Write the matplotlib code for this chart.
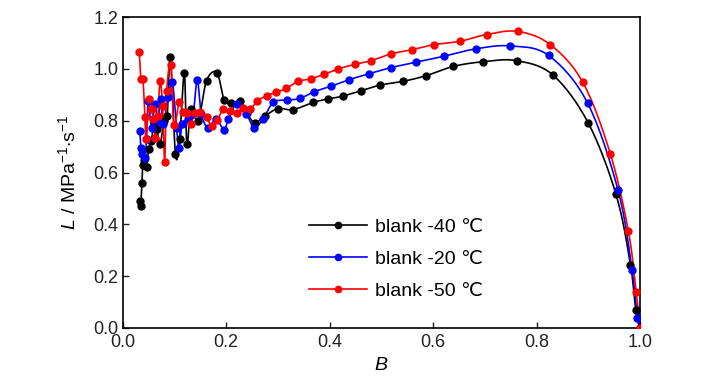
import numpy as np
import matplotlib
matplotlib.use("Agg")
import matplotlib.pyplot as plt
from matplotlib.lines import Line2D

plt.rcParams['font.family'] = ['Liberation Sans', 'DejaVu Sans']
plt.rcParams['mathtext.fontset'] = 'custom'
plt.rcParams['mathtext.rm'] = 'Liberation Sans'
plt.rcParams['mathtext.it'] = 'Liberation Sans:italic'

# ---- data ----
B_black = [0.034, 0.035, 0.037, 0.039, 0.042, 0.046, 0.050, 0.055, 0.060, 0.066,
           0.072, 0.080, 0.086, 0.092, 0.102, 0.110, 0.119, 0.124, 0.132, 0.146,
           0.162, 0.182, 0.196, 0.210, 0.226, 0.240, 0.255, 0.275, 0.300, 0.329,
           0.368, 0.396, 0.425, 0.460, 0.498, 0.541, 0.586, 0.639, 0.697, 0.761,
           0.831, 0.899, 0.953, 0.981, 0.991, 1.000]
L_black = [0.49, 0.47, 0.56, 0.63, 0.65, 0.62, 0.69, 0.72, 0.78, 0.77,
           0.71, 0.80, 0.82, 1.045, 0.67, 0.73, 0.983, 0.71, 0.845, 0.80,
           0.955, 0.985, 0.880, 0.867, 0.875, 0.83, 0.793, 0.819, 0.847, 0.843,
           0.871, 0.884, 0.895, 0.916, 0.938, 0.952, 0.974, 1.010, 1.028, 1.032,
           0.977, 0.793, 0.516, 0.244, 0.070, 0.0]

B_blue = [0.033, 0.035, 0.037, 0.043, 0.046, 0.049, 0.056, 0.062, 0.068, 0.074,
          0.078, 0.088, 0.096, 0.104, 0.109, 0.115, 0.126, 0.136, 0.144, 0.152,
          0.165, 0.180, 0.196, 0.204, 0.220, 0.239, 0.254, 0.271, 0.291, 0.318,
          0.342, 0.370, 0.402, 0.438, 0.475, 0.518, 0.567, 0.620, 0.683, 0.749,
          0.823, 0.898, 0.957, 0.984, 0.994, 1.000]
L_blue = [0.761, 0.696, 0.671, 0.658, 0.729, 0.877, 0.774, 0.864, 0.800, 0.884,
          0.787, 0.890, 0.948, 0.774, 0.696, 0.787, 0.806, 0.826, 0.958, 0.826,
          0.774, 0.806, 0.765, 0.806, 0.864, 0.826, 0.774, 0.806, 0.871, 0.880,
          0.886, 0.912, 0.933, 0.959, 0.981, 1.005, 1.026, 1.049, 1.078, 1.089,
          1.052, 0.869, 0.532, 0.225, 0.040, 0.0]

B_red = [0.032, 0.035, 0.039, 0.043, 0.045, 0.051, 0.056, 0.059, 0.063, 0.068,
         0.072, 0.077, 0.081, 0.085, 0.093, 0.099, 0.109, 0.116, 0.124, 0.131,
         0.139, 0.149, 0.162, 0.172, 0.183, 0.194, 0.207, 0.221, 0.233, 0.246,
         0.260, 0.278, 0.297, 0.316, 0.339, 0.363, 0.389, 0.416, 0.449, 0.480,
         0.518, 0.558, 0.602, 0.652, 0.703, 0.763, 0.826, 0.889, 0.942, 0.977,
         0.992, 1.000]
L_red = [1.067, 0.963, 0.961, 0.813, 0.729, 0.884, 0.845, 0.806, 0.735, 0.817,
         0.955, 0.858, 0.641, 0.916, 1.016, 0.783, 0.871, 0.835, 0.829, 0.787,
         0.829, 0.835, 0.813, 0.778, 0.803, 0.845, 0.838, 0.829, 0.851, 0.845,
         0.876, 0.897, 0.910, 0.925, 0.952, 0.962, 0.979, 1.000, 1.018, 1.032,
         1.058, 1.074, 1.094, 1.107, 1.133, 1.145, 1.094, 0.948, 0.673, 0.373,
         0.138, 0.0]

labels = ['blank -40 \u2103', 'blank -20 \u2103', 'blank -50 \u2103']
colors = ['black', '#0000FF', '#FF0000']
x_ticks = [0.0, 0.2, 0.4, 0.6, 0.8, 1.0]
y_ticks = [0.0, 0.2, 0.4, 0.6, 0.8, 1.0, 1.2]


def smooth(x, y, n=16):
    """Catmull-Rom spline through the data points (for drawing only)."""
    p = np.column_stack([x, y]).astype(float)
    p = np.vstack([p[0], p, p[-1]])
    out = []
    t = np.linspace(0, 1, n, endpoint=False)
    for i in range(1, len(p) - 2):
        p0, p1, p2, p3 = p[i - 1], p[i], p[i + 1], p[i + 2]
        tt = t[:, None]
        seg = 0.5 * ((2 * p1) + (-p0 + p2) * tt + (2 * p0 - 5 * p1 + 4 * p2 - p3) * tt ** 2
                     + (-p0 + 3 * p1 - 3 * p2 + p3) * tt ** 3)
        out.append(seg)
    out.append(p[-2][None, :])
    s = np.vstack(out)
    return s[:, 0], s[:, 1]


fig = plt.figure(figsize=(7.26, 3.90), dpi=100)
ax = fig.add_axes([0.169, 0.159, 0.713, 0.797])

series = [(B_black, L_black), (B_blue, L_blue), (B_red, L_red)]
for (bx, ly), c in zip(series, colors):
    sx, sy = smooth(bx, ly)
    ax.plot(sx, sy, color=c, lw=1.2, zorder=2)
    ax.plot(bx, ly, 'o', color=c, ms=5, zorder=3)

ax.set_xlim(0, 1.0)
ax.set_ylim(0, 1.2)
ax.set_xticks(x_ticks)
ax.set_yticks(y_ticks)
ax.set_xticklabels([f'{v:.1f}' for v in x_ticks])
ax.set_yticklabels([f'{v:.1f}' for v in y_ticks])
ax.tick_params(direction='in', length=4, width=1.0, labelsize=13, colors='#222222',
               top=False, right=False, pad=3)
ax.tick_params(axis='x', pad=4)
for sp in ax.spines.values():
    sp.set_linewidth(1.2)

ax.set_xlabel(r'$\it{B}$', fontsize=14, labelpad=5)
ax.set_ylabel(r'$\it{L}$ / MPa$^{\mathregular{-1}}$$\cdot$s$^{\mathregular{-1}}$', fontsize=14, labelpad=10)

handles = [Line2D([0], [0], color=c, lw=1.2, marker='o', ms=4.5) for c in colors]
ax.legend(handles, labels, loc='upper left', bbox_to_anchor=(0.344, 0.378), frameon=False,
          fontsize=14, handlelength=3.0, handletextpad=0.4, labelspacing=0.74,
          borderaxespad=0)

fig.savefig('out.png', dpi=100)
